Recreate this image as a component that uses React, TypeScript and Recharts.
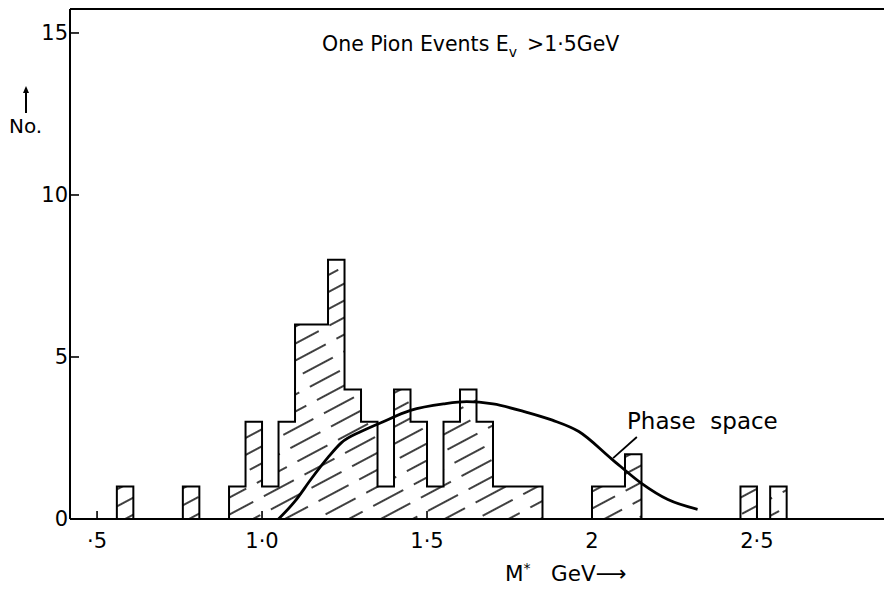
import React from "react";
import { ComposedChart, Area, Line, XAxis, YAxis, ReferenceLine } from "recharts";

// histogram bins (GeV) and counts
const binLeft = [0.56, 0.76, 0.9, 0.95, 1.0, 1.05, 1.1, 1.2, 1.25, 1.3, 1.35, 1.4, 1.45, 1.5, 1.55, 1.6, 1.65, 1.7, 2.0, 2.1, 2.45, 2.54];
const binRight = [0.61, 0.81, 0.95, 1.0, 1.05, 1.1, 1.2, 1.25, 1.3, 1.35, 1.4, 1.45, 1.5, 1.55, 1.6, 1.65, 1.7, 1.85, 2.1, 2.15, 2.5, 2.59];
const counts = [1, 1, 1, 3, 1, 3, 6, 8, 4, 3, 1, 4, 3, 1, 3, 4, 3, 1, 1, 2, 1, 1];

// phase space curve
const phaseX = [1.05, 1.1, 1.15, 1.2, 1.24, 1.3, 1.36, 1.45, 1.55, 1.62, 1.7, 1.8, 1.88, 1.96, 2.06, 2.15, 2.23, 2.32];
const phaseY = [0, 0.55, 1.25, 1.9, 2.35, 2.7, 2.97, 3.35, 3.55, 3.62, 3.55, 3.3, 3.05, 2.7, 1.85, 1.1, 0.6, 0.3];

const xTicks = [0.5, 1, 1.5, 2, 2.5];
const xTickLabels = ["·5", "1·0", "1·5", "2", "2·5"];
const yTicks = [0, 5, 10, 15];

const X_MIN = 0.418;
const X_MAX = 2.885;
const Y_MAX = 15.74;

const FONT = "'DejaVu Sans', sans-serif";

function buildSteps() {
  const pts: { x: number; y: number }[] = [{ x: X_MIN, y: 0 }];
  binLeft.forEach((l, i) => {
    pts.push({ x: l, y: counts[i] });
    const next = binLeft[i + 1];
    if (next === undefined || Math.abs(next - binRight[i]) > 1e-6) {
      pts.push({ x: binRight[i], y: 0 });
    }
  });
  return pts;
}

const steps = buildSteps();
const phase = phaseX.map((x, i) => ({ x, y: phaseY[i] }));

function XTick({ x, y, payload }: any) {
  const i = xTicks.indexOf(payload.value);
  return (
    <g>
      <line x1={x} x2={x} y1={y} y2={y - 8} stroke="#000" strokeWidth={1.6} />
      <text x={x} y={y + 29} textAnchor="middle" fontSize={21} fontFamily={FONT} fill="#000">
        {xTickLabels[i]}
      </text>
    </g>
  );
}

function YTick({ x, y, payload }: any) {
  return (
    <g>
      <line x1={x} x2={x + 9} y1={y} y2={y} stroke="#000" strokeWidth={1.6} />
      <text x={x - 2} y={y + 7} textAnchor="end" fontSize={21} fontFamily={FONT} fill="#000">
        {payload.value}
      </text>
    </g>
  );
}

export default function App() {
  return (
    <div style={{ position: "absolute", left: 0, top: 0, width: 884, height: 589, background: "#fff", fontFamily: FONT }}>
      <ComposedChart width={884} height={589} margin={{ top: 9, right: 0, bottom: 40, left: 10 }}>
        <defs>
          <pattern id="hatch" patternUnits="userSpaceOnUse" width="46" height="15" patternTransform="rotate(-28)">
            <line x1="0" y1="7" x2="46" y2="7" stroke="#000" strokeWidth="1.5" strokeDasharray="34 12" />
          </pattern>
        </defs>
        <XAxis
          type="number"
          dataKey="x"
          domain={[X_MIN, X_MAX]}
          allowDataOverflow
          ticks={xTicks}
          tick={<XTick />}
          tickSize={0}
          tickMargin={0}
          height={30}
          axisLine={{ stroke: "#000", strokeWidth: 2 }}
          tickLine={false}
        />
        <YAxis
          type="number"
          domain={[0, Y_MAX]}
          allowDataOverflow
          ticks={yTicks}
          tick={<YTick />}
          tickSize={0}
          tickMargin={0}
          width={60}
          axisLine={{ stroke: "#000", strokeWidth: 2 }}
          tickLine={false}
        />
        <ReferenceLine y={Y_MAX} stroke="#000" strokeWidth={2} />
        <Area
          data={steps}
          dataKey="y"
          type="stepAfter"
          stroke="#000"
          strokeWidth={2}
          fill="url(#hatch)"
          fillOpacity={1}
          dot={false}
          activeDot={false}
          isAnimationActive={false}
        />
        <Line
          data={phase}
          dataKey="y"
          type="monotone"
          stroke="#000"
          strokeWidth={2.8}
          dot={false}
          activeDot={false}
          isAnimationActive={false}
        />
        <ReferenceLine
          segment={[{ x: 2.064, y: 1.88 }, { x: 2.136, y: 2.53 }]}
          stroke="#000"
          strokeWidth={1.8}
        />
      </ComposedChart>

      <div style={{ position: "absolute", left: 322, top: 32, fontSize: 20.5, whiteSpace: "nowrap", color: "#000" }}>
        One Pion Events E<span style={{ fontSize: 14, position: "relative", top: 6 }}>v</span>
        <span style={{ marginLeft: 10 }}>&gt;1·5GeV</span>
      </div>
      <div style={{ position: "absolute", left: 627, top: 408, fontSize: 23, whiteSpace: "nowrap", color: "#000" }}>
        Phase&nbsp; space
      </div>
      <div style={{ position: "absolute", left: 505, top: 561, fontSize: 21.5, whiteSpace: "nowrap", color: "#000" }}>
        M<span style={{ fontSize: 14, position: "relative", top: -8 }}>*</span>&nbsp;&nbsp; GeV⟶
      </div>
      <svg style={{ position: "absolute", left: 20, top: 86 }} width={12} height={28}>
        <line x1={6} y1={4} x2={6} y2={27} stroke="#000" strokeWidth={2} />
        <path d="M6 0 L9 7 L3 7 Z" fill="#000" />
      </svg>
      <div style={{ position: "absolute", left: 9, top: 114, fontSize: 20, color: "#000" }}>No.</div>
    </div>
  );
}
